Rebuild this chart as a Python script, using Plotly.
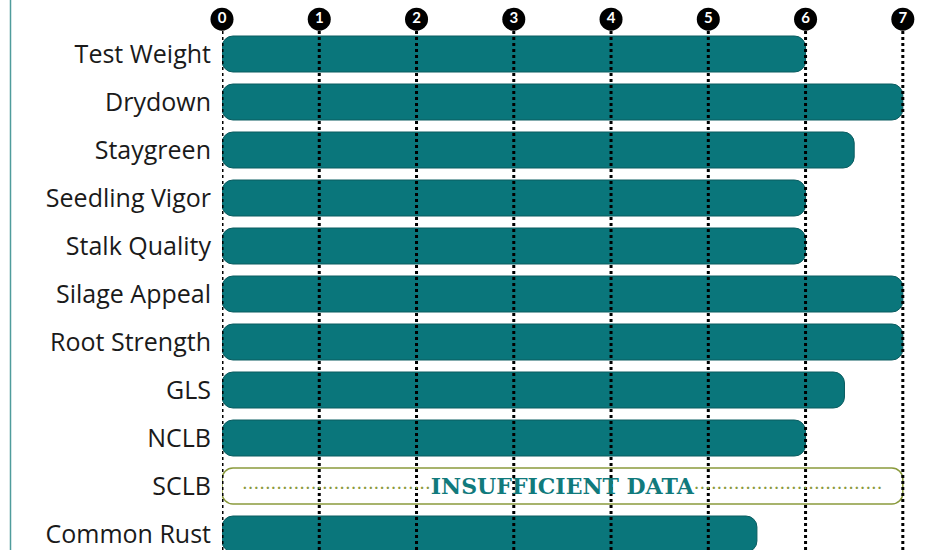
import plotly.graph_objects as go

categories = ["Test Weight", "Drydown", "Staygreen", "Seedling Vigor", "Stalk Quality",
              "Silage Appeal", "Root Strength", "GLS", "NCLB", "SCLB", "Common Rust"]
scores = [6, 7, 6.5, 6, 6, 7, 7, 6.4, 6, None, 5.5]
insufficient = ["SCLB"]
scale_max = 7
tick_vals = [0, 1, 2, 3, 4, 5, 6, 7]
tick_text = ["0", "1", "2", "3", "4", "5", "6", "7"]

TEAL = "#0a767b"
OLIVE = "#8a9a3c"

W, H = 951, 550
L, R = 222, 19
PW = W - L - R

fig = go.Figure()

# base=0 makes plotly round all four corners of each bar (pill shape)
fig.add_trace(go.Bar(
    y=categories, x=scores, base=[0] * len(categories), orientation="h",
    marker=dict(color=TEAL, line=dict(color="#0a5c60", width=1), cornerradius=11),
    hoverinfo="skip", xaxis="x", yaxis="y",
))

fig.add_trace(go.Bar(
    y=insufficient, x=[scale_max] * len(insufficient), base=[0] * len(insufficient),
    orientation="h",
    marker=dict(color="white", line=dict(color=OLIVE, width=1.5), cornerradius=11),
    hoverinfo="skip", xaxis="x", yaxis="y",
))

fig.add_trace(go.Scatter(
    x=tick_vals, y=[0.36] * len(tick_vals), mode="markers+text",
    marker=dict(size=23, color="black"), text=tick_text, textposition="middle center",
    textfont=dict(color="white", size=15, family="Lato", weight="bold"),
    xaxis="x2", yaxis="y2", hoverinfo="skip", cliponaxis=False,
))

dots = "·" * 33
for c in insufficient:
    fig.add_annotation(
        x=scale_max / 2, y=c, xref="x", yref="y", showarrow=False,
        text=(f'<span style="color:{OLIVE};font-weight:normal;font-size:18px">{dots}</span>'
              f'INSUFFICIENT DATA'
              f'<span style="color:{OLIVE};font-weight:normal;font-size:18px">{dots}</span>'),
        font=dict(family="DejaVu Serif", size=22, color="#117a7c", weight="bold"),
    )

shapes = []
for v in tick_vals:
    shapes.append(dict(type="line", xref="x", yref="y domain", x0=v, x1=v, y0=0, y1=1,
                       line=dict(color="black", width=3, dash="dot"), layer="above"))
shapes.append(dict(type="line", xref="paper", yref="paper", x0=(10.5 - L) / PW, x1=(10.5 - L) / PW,
                   y0=0, y1=1, line=dict(color="#4f9c9c", width=1.5)))

top_frac = 520 / 550
fig.update_layout(
    width=W, height=H,
    margin=dict(l=L, r=R, t=0, b=0),
    paper_bgcolor="white", plot_bgcolor="rgba(0,0,0,0)",
    showlegend=False, barmode="overlay", bargap=0.25,
    xaxis=dict(range=[0, 7.3], showgrid=False, zeroline=False, showticklabels=False,
               anchor="y", domain=[0, 1], automargin=False),
    yaxis=dict(range=[10.333, -0.5], domain=[0, top_frac], anchor="x", showgrid=False,
               categoryorder="array", categoryarray=categories,
               tickfont=dict(family="Open Sans", size=25, color="#1a1a1a"), ticks="",
               ticklabelstandoff=10, automargin=False),
    xaxis2=dict(matches="x", anchor="y2", visible=False, showgrid=False, domain=[0, 1],
                automargin=False),
    yaxis2=dict(range=[0, 1], domain=[top_frac, 1], anchor="x2", visible=False, showgrid=False,
                automargin=False),
    shapes=shapes,
)

fig.write_html("out.html", config={"displayModeBar": False},
               post_script="document.body.style.margin='0';")
